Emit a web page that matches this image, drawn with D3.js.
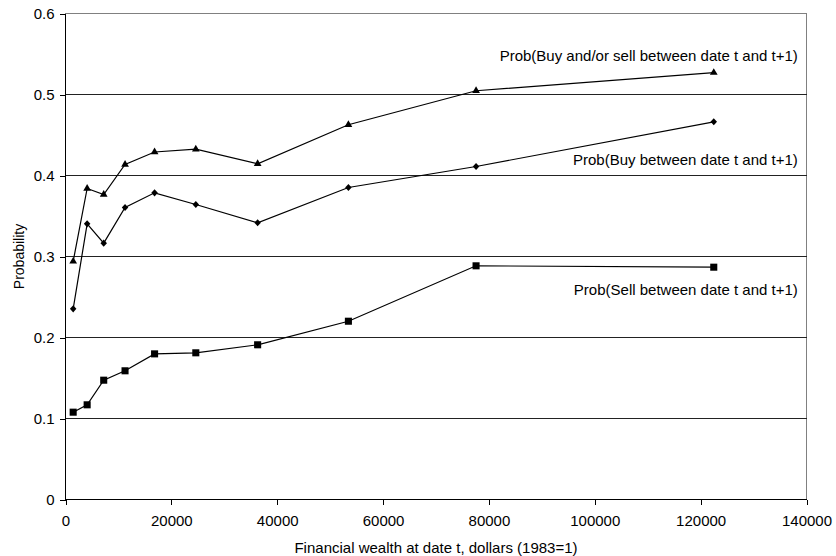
<!DOCTYPE html>
<html>
<head>
<meta charset="utf-8">
<script src="https://cdn.jsdelivr.net/npm/d3@7"></script>
<style>
  body { margin: 0; background: #fff; }
  svg text { font-family: "Liberation Sans", Arial, sans-serif; fill: #000; }
</style>
</head>
<body>
<div id="chart"></div>
<script>
// wealth points (x) and the three probability series
const wealth = [1450, 4090, 7220, 11250, 16830, 24620, 36300, 53450, 77570, 122480];
const buyOrSell = [0.294, 0.384, 0.3765, 0.4136, 0.429, 0.4325, 0.4144, 0.4626, 0.5046, 0.527];
const buy = [0.2354, 0.3403, 0.3165, 0.3605, 0.3786, 0.3642, 0.3416, 0.3852, 0.4111, 0.4663];
const sell = [0.1078, 0.1169, 0.1473, 0.1589, 0.1798, 0.1811, 0.191, 0.2201, 0.2885, 0.2868];

const seriesNames = [
  "Prob(Buy and/or sell between date t and t+1)",
  "Prob(Buy between date t and t+1)",
  "Prob(Sell between date t and t+1)"
];
const xTicks = [0, 20000, 40000, 60000, 80000, 100000, 120000, 140000];
const yTicks = [0, 0.1, 0.2, 0.3, 0.4, 0.5, 0.6];
const xTitle = "Financial wealth at date t, dollars (1983=1)";
const yTitle = "Probability";

const W = 836, H = 556;
const margin = { top: 13.5, right: 29.5, bottom: 56.5, left: 65.5 },
  width = W - margin.left - margin.right,
  height = H - margin.top - margin.bottom;

const x = d3.scaleLinear().domain([0, 140000]).range([0, width]);
const y = d3.scaleLinear().domain([0, 0.6]).range([height, 0]);

const svg = d3.select("#chart").append("svg")
  .attr("width", W)
  .attr("height", H)
  .append("g")
  .attr("transform", `translate(${margin.left},${margin.top})`);

// plot border (gray top / right)
svg.append("rect")
  .attr("x", 0).attr("y", 0)
  .attr("width", width).attr("height", height)
  .attr("fill", "none")
  .attr("stroke", "#808080")
  .attr("shape-rendering", "crispEdges");

// horizontal gridlines
svg.selectAll(".grid")
  .data(yTicks.filter(d => d > 0 && d < 0.6))
  .enter().append("line")
  .attr("class", "grid")
  .attr("x1", 0).attr("x2", width)
  .attr("y1", d => y(d)).attr("y2", d => y(d))
  .attr("stroke", "#222")
  .attr("shape-rendering", "crispEdges");

// axes
const yAxis = svg.append("g")
  .call(d3.axisLeft(y).tickValues(yTicks).tickSize(6).tickPadding(5)
    .tickFormat(d => d === 0 ? "0" : d3.format(".1f")(d)));
const xAxis = svg.append("g")
  .attr("transform", `translate(0,${height})`)
  .call(d3.axisBottom(x).tickValues(xTicks).tickSize(5).tickPadding(11)
    .tickFormat(d3.format("d")));

[xAxis, yAxis].forEach(a => {
  a.selectAll("path, line").attr("stroke", "#000").attr("shape-rendering", "crispEdges");
  a.select(".domain").attr("d", a === xAxis ? `M0,0H${width}` : `M0,0V${height}`);
  a.selectAll("text").style("font-size", "15px").attr("fill", "#000");
});

// markers
const triangle = d3.symbol().type(d3.symbolTriangle).size(26);
const square = d3.symbol().type(d3.symbolSquare).size(50);
const diamond = {
  draw(ctx, size) {
    const r = Math.sqrt(size) / 2;
    ctx.moveTo(0, -r * 1.1);
    ctx.lineTo(r, 0);
    ctx.lineTo(0, r * 1.1);
    ctx.lineTo(-r, 0);
    ctx.closePath();
  }
};
const diamondGen = d3.symbol().type(diamond).size(42);

const series = [
  { name: seriesNames[0], values: buyOrSell, marker: triangle, dx: 84, dy: -11.5 },
  { name: seriesNames[1], values: buy, marker: diamondGen, dx: 84, dy: 43 },
  { name: seriesNames[2], values: sell, marker: square, dx: 84, dy: 28 }
];

const line = d3.line()
  .x((d, i) => x(wealth[i]))
  .y(d => y(d));

series.forEach(s => {
  svg.append("path")
    .datum(s.values)
    .attr("fill", "none")
    .attr("stroke", "#000")
    .attr("stroke-width", 1.2)
    .attr("d", line);

  svg.selectAll(null)
    .data(s.values)
    .enter().append("path")
    .attr("transform", (d, i) => `translate(${x(wealth[i])},${y(d)})`)
    .attr("d", s.marker)
    .attr("fill", "#000");

  const last = s.values.length - 1;
  svg.append("text")
    .attr("x", x(wealth[last]) + s.dx)
    .attr("y", y(s.values[last]) + s.dy)
    .attr("text-anchor", "end")
    .style("font-size", "15px")
    .text(s.name);
});

// axis titles
svg.append("text")
  .attr("x", width / 2)
  .attr("y", height + 53)
  .attr("text-anchor", "middle")
  .style("font-size", "15px")
  .text(xTitle);

svg.append("text")
  .attr("transform", `translate(${24 - margin.left},${height / 2}) rotate(-90)`)
  .attr("text-anchor", "middle")
  .style("font-size", "14px")
  .text(yTitle);
</script>
</body>
</html>
